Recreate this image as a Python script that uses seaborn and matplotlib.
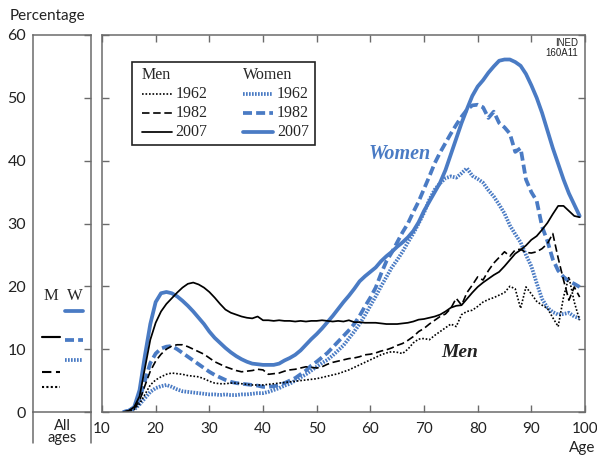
import pandas as pd
import seaborn as sns
import matplotlib.pyplot as plt
from matplotlib.lines import Line2D
from matplotlib.patches import Rectangle

# ages shown on the main panel
ages = list(range(14, 100))

men_1962 = [0, 0.1, 0.4, 1.3, 2.8, 4.3, 5.1, 5.6, 6.0, 6.2,
            6.1, 6.0, 5.8, 5.7, 5.6, 5.3, 4.9, 4.6, 4.5, 4.5,
            4.6, 4.6, 4.5, 4.4, 4.3, 4.3, 4.3, 4.4, 4.5, 4.6,
            4.7, 4.8, 4.9, 5.0, 5.1, 5.2, 5.3, 5.5, 5.7, 5.9,
            6.1, 6.4, 6.7, 7.1, 7.5, 7.9, 8.3, 8.7, 9.1, 9.4,
            9.6, 9.5, 9.3, 10.0, 11.0, 11.6, 11.7, 11.5, 12.2, 12.8,
            13.4, 14.0, 13.6, 15.5, 16.0, 16.2, 16.8, 17.5, 17.9, 18.2,
            18.6, 19.0, 20.0, 19.6, 16.5, 19.9, 18.8, 17.6, 17.0, 16.5,
            15.0, 13.6, 18.3, 21.5, 17.5, 14.6]
men_1982 = [0, 0.2, 0.6, 1.8, 4.2, 6.5, 8.1, 9.2, 10.0, 10.5,
            10.7, 10.7, 10.4, 10.0, 9.6, 9.2, 8.6, 8.0, 7.6, 7.2,
            6.9, 6.6, 6.4, 6.5, 6.6, 6.8, 6.7, 6.0, 6.1, 6.2,
            6.5, 6.7, 6.8, 7.0, 7.2, 7.1, 7.0, 7.2, 7.6, 7.9,
            8.1, 8.3, 8.5, 8.6, 8.8, 9.1, 9.2, 9.4, 9.7, 9.9,
            10.2, 10.6, 10.9, 11.4, 12.0, 12.8, 13.3, 14.0, 14.6, 15.2,
            15.6, 16.5, 18.1, 17.0, 19.0, 20.2, 21.5, 21.0, 22.5, 23.7,
            24.6, 25.5, 24.8, 25.8, 25.9, 25.4, 25.3, 25.5, 26.0, 26.8,
            28.4, 24.5, 21.0, 17.8, 19.9, 18.3]
men_2007 = [0, 0.2, 0.8, 2.5, 7.0, 11.5, 14.2, 16.0, 17.2, 18.1,
            19.0, 19.8, 20.4, 20.6, 20.3, 19.8, 19.1, 18.2, 17.2, 16.3,
            15.8, 15.5, 15.2, 15.0, 14.9, 15.2, 14.6, 14.6, 14.5, 14.6,
            14.5, 14.5, 14.4, 14.5, 14.4, 14.5, 14.5, 14.6, 14.5, 14.4,
            14.5, 14.4, 14.6, 14.3, 14.3, 14.2, 14.2, 14.2, 14.1, 14.0,
            14.0, 14.0, 14.1, 14.2, 14.4, 14.7, 14.8, 15.0, 15.2, 15.5,
            16.0, 16.6, 16.9, 17.0, 18.0, 19.0, 19.9, 20.6, 21.2, 21.8,
            22.3, 23.2, 24.2, 25.2, 25.8, 26.5, 27.4, 28.0, 29.0, 30.1,
            31.5, 32.8, 32.8, 32.0, 31.2, 31.0]
women_1962 = [0, 0.1, 0.4, 1.2, 2.2, 3.2, 3.8, 4.1, 4.3, 4.0,
              3.6, 3.3, 3.2, 3.1, 3.0, 2.9, 2.8, 2.8, 2.7, 2.8,
              2.7, 2.7, 2.8, 2.8, 2.9, 3.0, 3.0, 3.2, 3.5, 3.8,
              4.2, 4.5, 5.0, 5.5, 6.0, 6.6, 7.2, 7.8, 8.3, 9.0,
              9.8, 10.6, 11.7, 12.8, 14.0, 15.4, 16.9, 18.4, 20.0, 21.5,
              23.0, 24.2, 25.5, 27.0, 28.4, 30.0, 31.7, 33.8, 35.4, 36.4,
              37.2, 37.5, 37.3, 38.0, 38.8, 37.6, 37.1, 36.5, 35.3, 34.3,
              33.0, 31.6, 29.7, 28.3, 27.0, 25.0, 23.2, 20.5, 18.0, 16.6,
              15.9, 15.5, 15.6, 15.8, 15.2, 14.9]
women_1982 = [0, 0.2, 0.7, 2.0, 5.0, 7.8, 9.3, 10.1, 10.4, 10.5,
              10.0, 9.4, 8.8, 8.2, 7.6, 7.0, 6.4, 5.9, 5.5, 5.1,
              4.8, 4.6, 4.5, 4.4, 4.3, 4.2, 4.0, 4.0, 4.1, 4.3,
              4.6, 5.0, 5.4, 6.0, 6.6, 7.4, 8.0, 8.7, 9.4, 10.3,
              11.2, 12.1, 13.0, 14.0, 15.3, 16.8, 18.2, 19.8, 22.0, 24.0,
              25.4, 27.0, 28.6, 30.0, 31.8, 33.5, 35.5, 37.5, 39.6, 41.3,
              42.8, 44.3, 45.7, 47.0, 48.1, 48.8, 48.9, 48.5, 46.8, 47.8,
              46.0, 45.3, 44.3, 41.4, 42.0, 37.0, 35.0, 33.6, 29.5, 27.2,
              24.3, 22.5, 21.5, 20.8, 20.4, 19.9]
women_2007 = [0, 0.2, 0.8, 3.5, 9.0, 14.0, 17.5, 18.9, 19.1, 18.9,
              18.4, 17.7, 16.9, 16.0, 15.0, 14.0, 12.8, 11.8, 11.0, 10.2,
              9.5, 8.9, 8.4, 8.0, 7.7, 7.6, 7.5, 7.5, 7.5, 7.7,
              8.2, 8.6, 9.1, 9.8, 10.7, 11.6, 12.4, 13.3, 14.3, 15.3,
              16.4, 17.5, 18.5, 19.6, 20.8, 21.6, 22.3, 23.0, 24.0, 24.8,
              25.5, 26.3, 27.0, 27.8, 28.8, 30.2, 32.0, 33.5, 35.0, 36.5,
              38.5, 41.0, 43.5, 46.0, 48.2, 50.3, 51.8, 52.8, 54.0, 55.0,
              55.9, 56.1, 56.1, 55.7, 55.1, 53.8, 52.0, 50.0, 47.6, 44.8,
              42.0, 39.5, 37.0, 34.8, 33.0, 31.2]

years = ["1962", "1982", "2007"]
all_ages_men = [4.0, 6.3, 12.0]
all_ages_women = [8.2, 11.4, 16.0]

BLUE = "#4a7bc4"
GREY = "#6b6b6b"
INK = "#222222"
styles = {
    ("Men", "1962"): dict(color="black", lw=1.2, ls=(0, (1.0, 1.1))),
    ("Men", "1982"): dict(color="black", lw=1.2, ls=(0, (4.5, 2.2))),
    ("Men", "2007"): dict(color="black", lw=1.25, ls="-"),
    ("Women", "1962"): dict(color=BLUE, lw=2.7, ls=(0, (0.45, 0.35))),
    ("Women", "1982"): dict(color=BLUE, lw=2.7, ls=(0, (2.4, 1.1))),
    ("Women", "2007"): dict(color=BLUE, lw=2.7, ls="-"),
}

series = {
    ("Men", "1962"): men_1962, ("Men", "1982"): men_1982, ("Men", "2007"): men_2007,
    ("Women", "1962"): women_1962, ("Women", "1982"): women_1982, ("Women", "2007"): women_2007,
}
rows = []
for (sex, year), vals in series.items():
    for a, v in zip(ages, vals):
        rows.append({"sex": sex, "year": year, "age": a, "pct": v})
df = pd.DataFrame(rows)

sns.set_style("ticks")
plt.rcParams["font.family"] = ["Lato", "DejaVu Sans"]
plt.rcParams["axes.edgecolor"] = GREY
plt.rcParams["xtick.color"] = GREY
plt.rcParams["ytick.color"] = GREY
plt.rcParams["xtick.labelcolor"] = INK
plt.rcParams["ytick.labelcolor"] = INK

fig = plt.figure(figsize=(5.97, 4.55), dpi=100)
ax_all = fig.add_axes([33 / 597, 43 / 455, 58 / 597, 377 / 455])
ax = fig.add_axes([102 / 597, 43 / 455, 483 / 597, 377 / 455])

# main panel: women drawn first, men on top
for sex in ["Women", "Men"]:
    for year in years:
        st = styles[(sex, year)]
        sub = df[(df["sex"] == sex) & (df["year"] == year)]
        sns.lineplot(data=sub, x="age", y="pct", ax=ax, color=st["color"],
                     lw=st["lw"], linestyle=st["ls"], errorbar=None,
                     dash_capstyle="butt", solid_joinstyle="round")

ax.set_xlim(10, 100)
ax.set_ylim(0, 60)
ax.set_xticks(range(10, 101, 10))
ax.set_yticks(range(0, 61, 10))
ax.set_xlabel("")
ax.set_ylabel("")
ax.tick_params(axis="both", direction="in", length=5, width=1, top=True, right=True,
               labelleft=False, labelsize=11, pad=7)
for sp in ax.spines.values():
    sp.set_visible(True)
    sp.set_color(GREY)
    sp.set_linewidth(1.1)

# legend box
serif = "Liberation Serif"
ax.add_patch(Rectangle((0.062, 0.708), 0.379, 0.220, transform=ax.transAxes,
                       fill=False, ec=INK, lw=1.2))
ax.text(0.082, 0.894, "Men", transform=ax.transAxes, family=serif, fontsize=11.5,
        va="center", ha="left")
ax.text(0.292, 0.894, "Women", transform=ax.transAxes, family=serif, fontsize=11.5,
        va="center", ha="left")
row_y = [0.8435, 0.793, 0.743]
for sex, x0 in [("Men", 0.082), ("Women", 0.292)]:
    for year, yy in zip(years, row_y):
        st = styles[(sex, year)]
        ax.add_line(Line2D([x0, x0 + 0.062], [yy, yy], transform=ax.transAxes,
                           color=st["color"], lw=st["lw"], linestyle=st["ls"],
                           dash_capstyle="butt"))
        ax.text(x0 + 0.070, yy, year, transform=ax.transAxes, family=serif,
                fontsize=11.5, va="center", ha="left")

ax.text(65.5, 41.0, "Women", family=serif, fontsize=14.5, fontweight="bold",
        style="italic", color=BLUE, ha="center", va="center")
ax.text(76.6, 9.4, "Men", family=serif, fontsize=14, fontweight="bold",
        style="italic", color=INK, ha="center", va="center")
ax.text(0.986, 0.992, "INED\n160A11", transform=ax.transAxes, fontsize=7,
        family="Liberation Sans", ha="right", va="top", linespacing=0.95,
        color=INK)

# all-ages panel
for i, year in enumerate(years):
    st = styles[("Men", year)]
    ax_all.plot([0.15, 0.47], [all_ages_men[i]] * 2, color=st["color"],
                lw=st["lw"] + 0.3, linestyle=st["ls"], dash_capstyle="butt")
    st = styles[("Women", year)]
    ax_all.plot([0.55, 0.86], [all_ages_women[i]] * 2, color=st["color"],
                lw=st["lw"], linestyle=st["ls"], dash_capstyle="butt")
ax_all.text(0.30, 18.4, "M", family=serif, fontsize=12, ha="center", va="center")
ax_all.text(0.73, 18.4, "W", family=serif, fontsize=12, ha="center", va="center")
ax_all.set_xlim(0, 1)
ax_all.set_ylim(0, 60)
ax_all.set_xticks([])
ax_all.set_yticks(range(0, 61, 10))
ax_all.tick_params(axis="y", direction="in", length=5, width=1, left=False,
                   right=True, labelleft=True, labelsize=11.5, pad=5)
for sp in ax_all.spines.values():
    sp.set_visible(True)
    sp.set_color(GREY)
    sp.set_linewidth(1.1)
for xx in [0, 1]:
    ax_all.add_line(Line2D([xx, xx], [0, -0.082], transform=ax_all.transAxes,
                           color=GREY, lw=1.1, clip_on=False))
ax_all.text(0.5, -0.053, "All\nages", transform=ax_all.transAxes, fontsize=10.5,
            ha="center", va="center", linespacing=0.85, color=INK)

fig.text(10 / 597, 1 - 16 / 455, "Percentage", fontsize=11, ha="left", va="center",
         color=INK)
fig.text(582 / 597, 7 / 455, "Age", fontsize=11, ha="center", va="center",
         color=INK)

fig.savefig("out.png", dpi=100)
